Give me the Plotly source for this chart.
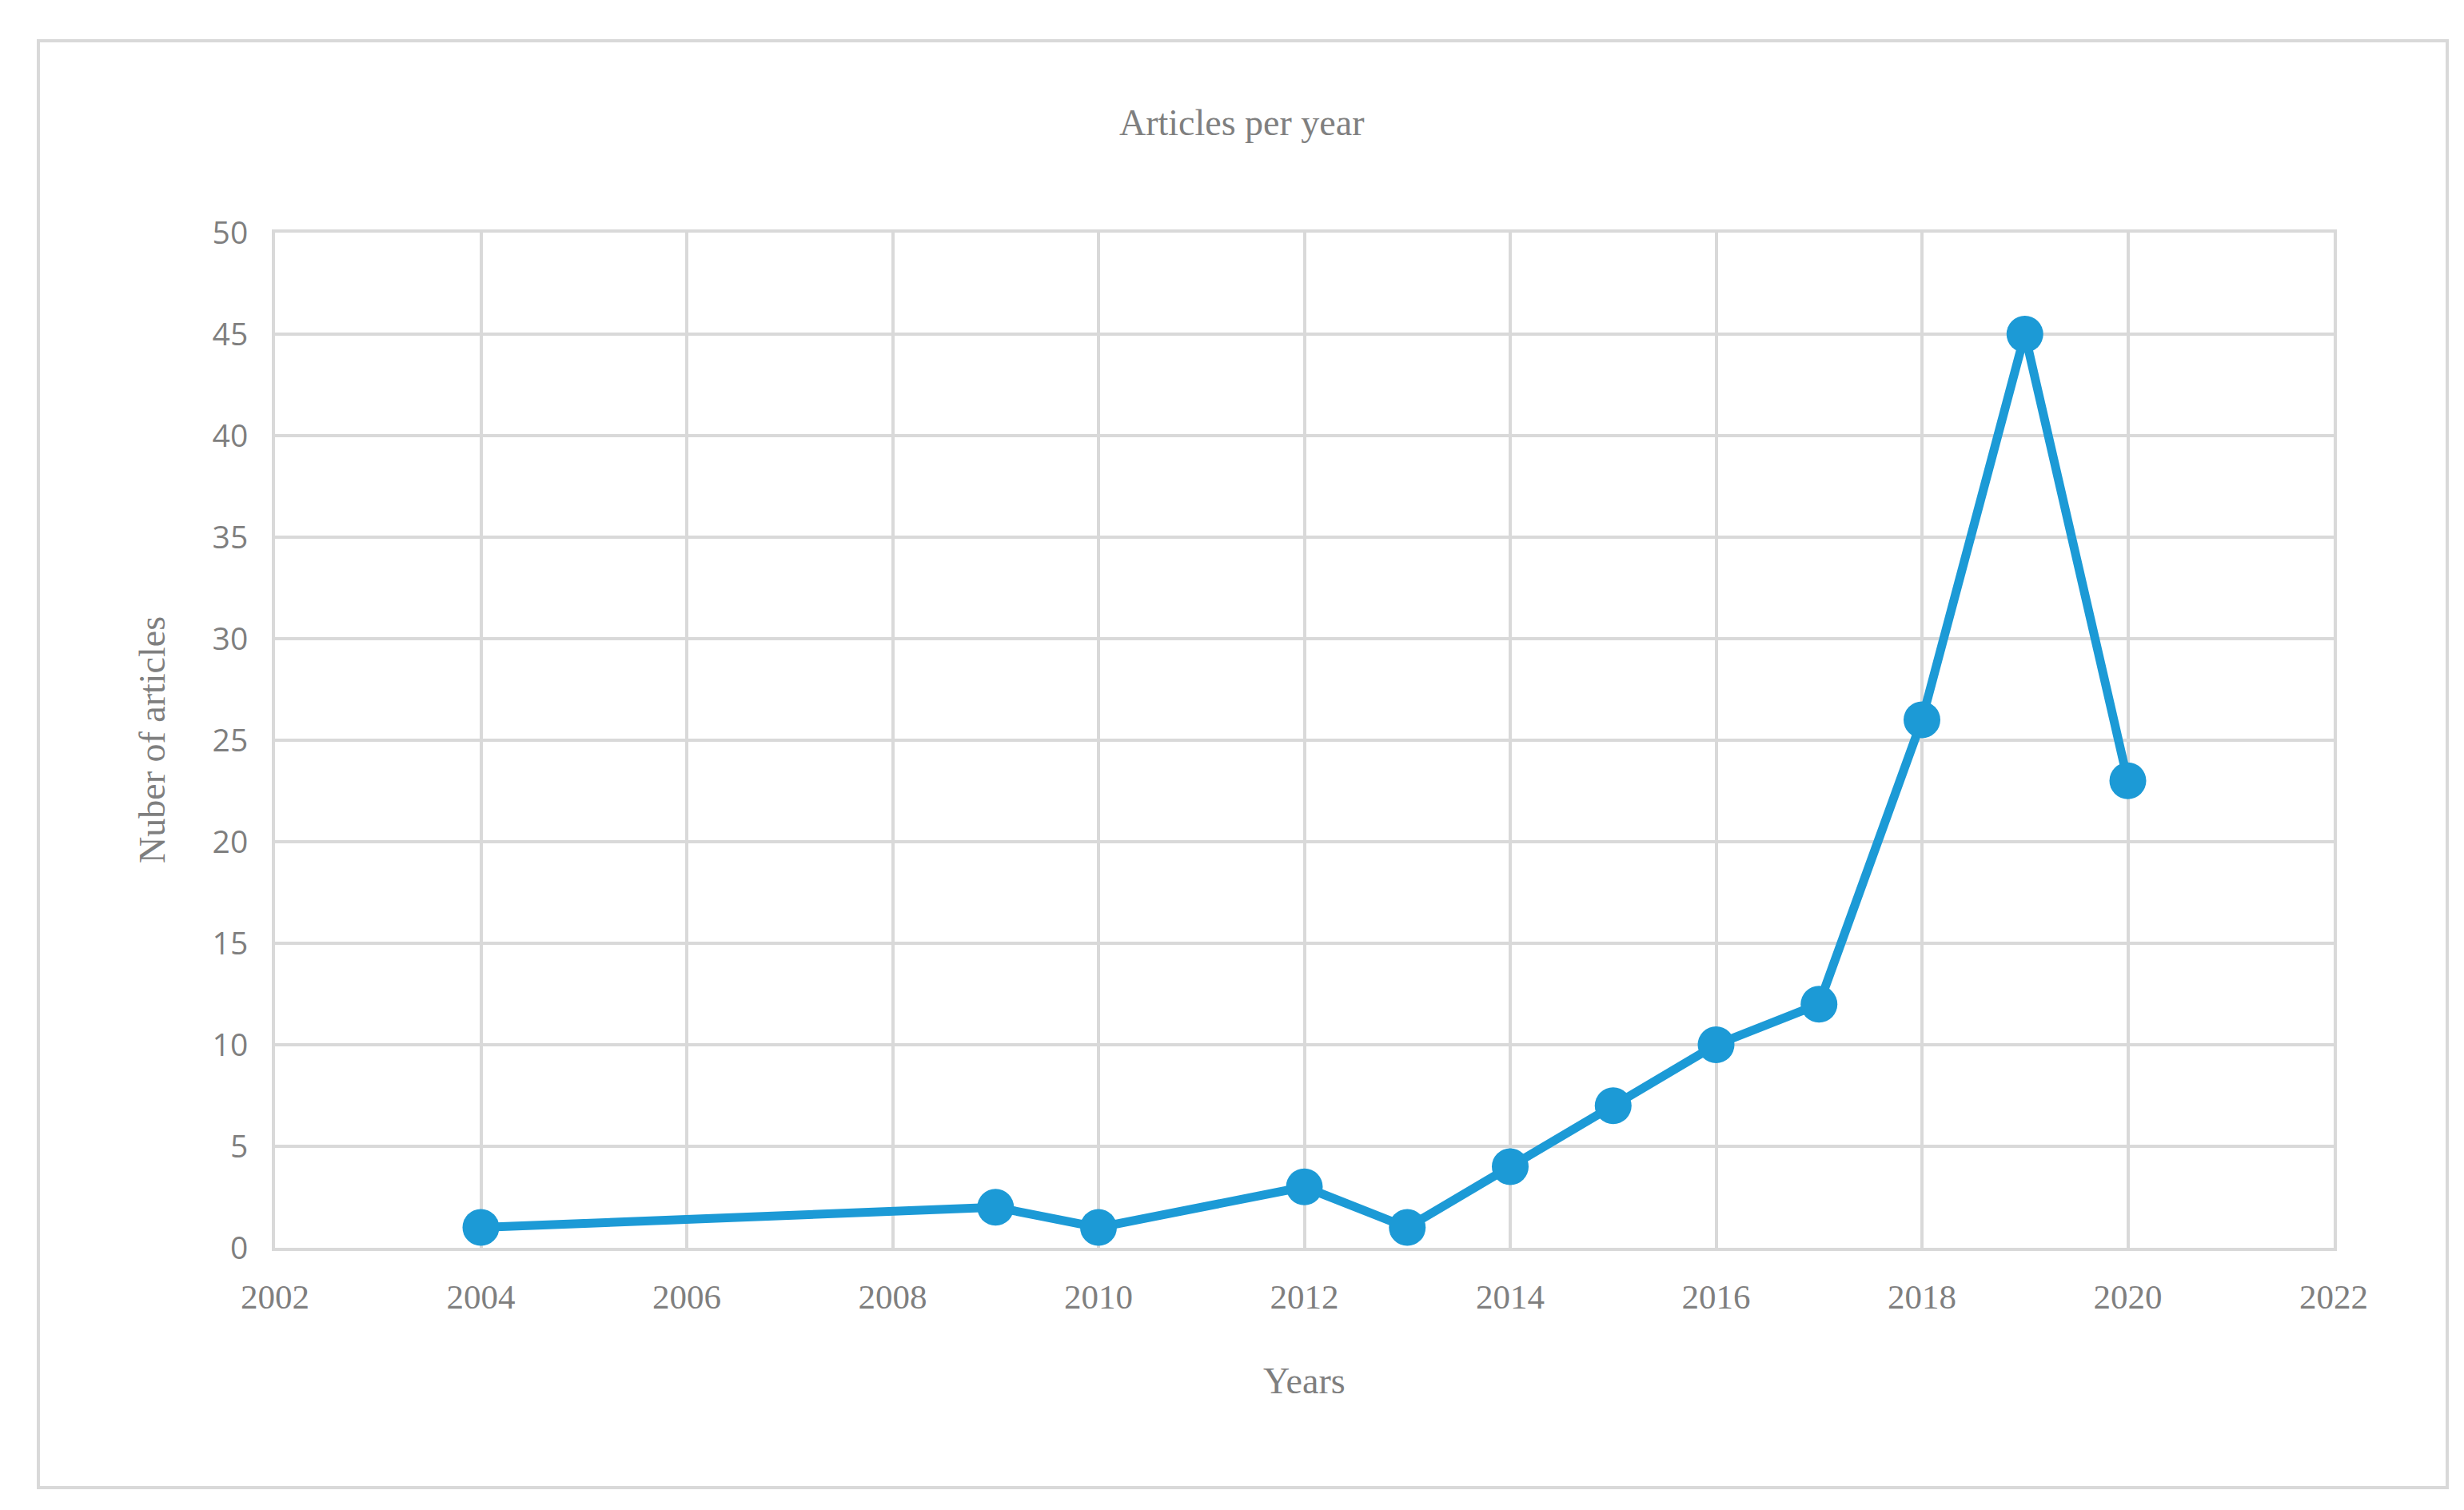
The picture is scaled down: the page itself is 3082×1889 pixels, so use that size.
import plotly.graph_objects as go

years = [2004, 2009, 2010, 2012, 2013, 2014, 2015, 2016, 2017, 2018, 2019, 2020]
articles = [1, 2, 1, 3, 1, 4, 7, 10, 12, 26, 45, 23]

W, H = 3082, 1889
L, R, T, B = 336, 171, 283, 336
pw, ph = W - L - R, H - T - B
px = lambda x: (x - L) / pw
py = lambda y: (H - B - y) / ph

grey = "#7f7f7f"
serif = "Palatino Linotype, Liberation Serif, serif"

fig = go.Figure(go.Scatter(
    x=years, y=articles, mode="lines+markers",
    line=dict(color="#1C9AD6", width=11),
    marker=dict(color="#1C9AD6", size=46),
))
fig.update_layout(
    width=W, height=H, margin=dict(l=L, r=R, t=T, b=B),
    paper_bgcolor="white", plot_bgcolor="white", showlegend=False,
    xaxis=dict(range=[2002, 2022], dtick=2, tick0=2002, showgrid=True, gridcolor="#d9d9d9", gridwidth=4,
               showline=True, linecolor="#d9d9d9", linewidth=4, mirror=True, zeroline=False,
               ticks="", tickfont=dict(family=serif, size=43, color=grey), ticklabelstandoff=20),
    yaxis=dict(range=[0, 50], dtick=5, showgrid=True, gridcolor="#d9d9d9", gridwidth=4,
               showline=True, linecolor="#d9d9d9", linewidth=4, mirror=True, zeroline=False,
               ticks="", tickfont=dict(family="Open Sans", size=39, color=grey), ticklabelstandoff=22),
    shapes=[dict(type="rect", xref="paper", yref="paper", x0=px(40), x1=px(3053), y0=py(1853), y1=py(43),
                 line=dict(color="#d9d9d9", width=4))],
    annotations=[
        dict(text="Articles per year", xref="paper", yref="paper", x=px(1545), y=py(146), showarrow=False,
             font=dict(family=serif, size=46, color=grey), xanchor="center", yanchor="middle"),
        dict(text="Years", xref="paper", yref="paper", x=px(1623), y=py(1719), showarrow=False,
             font=dict(family=serif, size=46, color=grey), xanchor="center", yanchor="middle"),
        dict(text="Nuber of articles", xref="paper", yref="paper", x=px(182), y=py(918), showarrow=False,
             textangle=-90, font=dict(family=serif, size=46, color=grey), xanchor="center", yanchor="middle"),
    ],
)
fig.write_html("out.html")
